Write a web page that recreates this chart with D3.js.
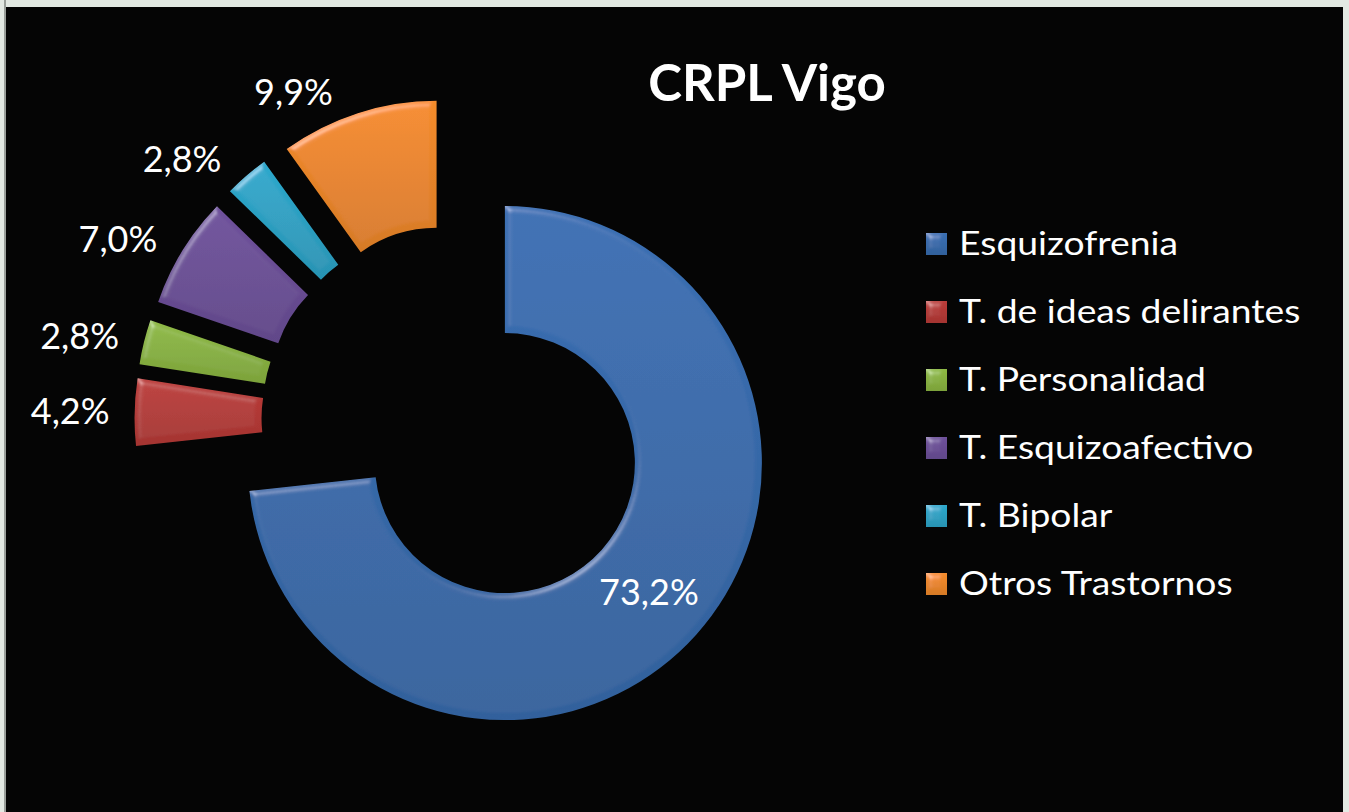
<!DOCTYPE html>
<html>
<head>
<meta charset="utf-8">
<script src="https://cdn.jsdelivr.net/npm/d3@7"></script>
<style>
  body { margin: 0; background: #e3e9e3; }
  svg { display: block; }
  text { font-family: Lato, "Open Sans", sans-serif; fill: #ffffff; }
</style>
</head>
<body>
<svg id="vis-svg" width="1349" height="812"></svg>
<script>

// Data
var categories = ['Esquizofrenia', 'T. de ideas delirantes', 'T. Personalidad',
                  'T. Esquizoafectivo', 'T. Bipolar', 'Otros Trastornos'];
var values = [73.2, 4.2, 2.8, 7.0, 2.8, 9.9];
var colors = ['#386cae', '#b73a37', '#8ab441', '#6c4f98', '#2ca4c7', '#ee882a'];
var title = 'CRPL Vigo';

function donutChart(){

// Set bounds
var width  = 1349;
var height = 812;
var center = {x: 456.5, y: 419.7};
var innerR = 130;
var outerR = 257;
var explode = 65;

var svg = d3.select('#vis-svg');

// Black chart area inside the light frame
svg.append('rect')
  .attr('x', 4).attr('y', 0)
  .attr('width', 2).attr('height', height)
  .attr('fill', '#9a9f9a');
svg.append('rect')
  .attr('x', 6).attr('y', 7)
  .attr('width', 1337).attr('height', height - 7)
  .attr('fill', '#050505');

var defs = svg.append('defs');

// Bevel look for slices and legend keys
var bevel = defs.append('filter')
  .attr('id', 'bevel')
  .attr('x', '-5%').attr('y', '-5%')
  .attr('width', '110%').attr('height', '110%');
bevel.append('feGaussianBlur')
  .attr('in', 'SourceAlpha').attr('stdDeviation', 3).attr('result', 'blur');
var spec = bevel.append('feSpecularLighting')
  .attr('in', 'blur').attr('surfaceScale', 3)
  .attr('specularConstant', 0.7).attr('specularExponent', 32)
  .attr('lighting-color', '#ffffff').attr('result', 'spec');
spec.append('feDistantLight').attr('azimuth', 235).attr('elevation', 42);
bevel.append('feComposite')
  .attr('in', 'spec').attr('in2', 'SourceAlpha')
  .attr('operator', 'in').attr('result', 'specIn');
bevel.append('feComposite')
  .attr('in', 'SourceGraphic').attr('in2', 'specIn')
  .attr('operator', 'arithmetic')
  .attr('k1', 0).attr('k2', 1).attr('k3', 0.35).attr('k4', 0);

// Vertical gradients, a bit lighter at the top
colors.forEach(function(c, i){
  var g = defs.append('linearGradient')
    .attr('id', 'grad' + i)
    .attr('x1', 0).attr('y1', 0).attr('x2', 0).attr('y2', 1);
  g.append('stop').attr('offset', '0%').attr('stop-color', d3.color(c).brighter(0.08));
  g.append('stop').attr('offset', '100%').attr('stop-color', d3.color(c).darker(0.3));
});

var data = categories.map(function(c, i){
  return {name: c, value: values[i], index: i};
});

var pie = d3.pie()
  .sort(null)
  .value(function(d){ return d.value; });

var arc = d3.arc()
  .innerRadius(innerR)
  .outerRadius(outerR);

var outerPoint = d3.arc()
  .innerRadius(outerR)
  .outerRadius(outerR);

// Format like 73,2%
var fmt = d3.formatLocale({decimal: ',', thousands: '.', grouping: [3], currency: ['', '€']}).format('.1f');

function direction(d){
  var a = (d.startAngle + d.endAngle) / 2;
  return [Math.sin(a), -Math.cos(a)];
}

// Start group
var chartGroup = svg.append('g')
  .attr('transform', 'translate(' + center.x + ',' + center.y + ')');

var slices = chartGroup.selectAll('g.slice')
  .data(pie(data))
  .enter()
  .append('g')
  .attr('class', 'slice')
  .attr('transform', function(d){
    var u = direction(d);
    return 'translate(' + (u[0] * explode) + ',' + (u[1] * explode) + ')';
  });

slices.append('path')
  .attr('d', arc)
  .attr('fill', function(d){ return 'url(#grad' + d.data.index + ')'; })
  .attr('filter', 'url(#bevel)');

// Data labels: big slice inside, small ones outside to the left
slices.append('text')
  .attr('font-size', '36px')
  .attr('dy', '0.35em')
  .attr('text-anchor', function(d){ return d.data.value > 50 ? 'middle' : 'end'; })
  .attr('x', function(d){
    if (d.data.value > 50) return arc.centroid(d)[0];
    return outerPoint.centroid(d)[0] - 25;
  })
  .attr('y', function(d){
    if (d.data.value > 50) return arc.centroid(d)[1];
    return outerPoint.centroid(d)[1] + 22 * direction(d)[1];
  })
  .text(function(d){ return fmt(d.data.value) + '%'; });

// Title
svg.append('text')
  .attr('x', 767)
  .attr('y', 101)
  .attr('text-anchor', 'middle')
  .attr('font-size', '51px')
  .attr('font-weight', 'bold')
  .text(title);

// Legend
var legendScale = d3.scalePoint()
  .domain(categories)
  .range([244, 584]);

var legend = svg.append('g')
  .attr('class', 'legend')
  .selectAll('g')
  .data(data)
  .enter()
  .append('g')
  .attr('transform', function(d){ return 'translate(926,' + legendScale(d.name) + ')'; });

legend.append('rect')
  .attr('x', 0).attr('y', -11)
  .attr('width', 21).attr('height', 22)
  .attr('fill', function(d){ return 'url(#grad' + d.index + ')'; })
  .attr('filter', 'url(#bevel)');

// Calibri-like width: stretch the text a little
legend.append('text')
  .attr('transform', 'translate(33,11) scale(1.13,1)')
  .attr('font-size', '33px')
  .text(function(d){ return d.name; });

}

donutChart();

</script>
</body>
</html>
